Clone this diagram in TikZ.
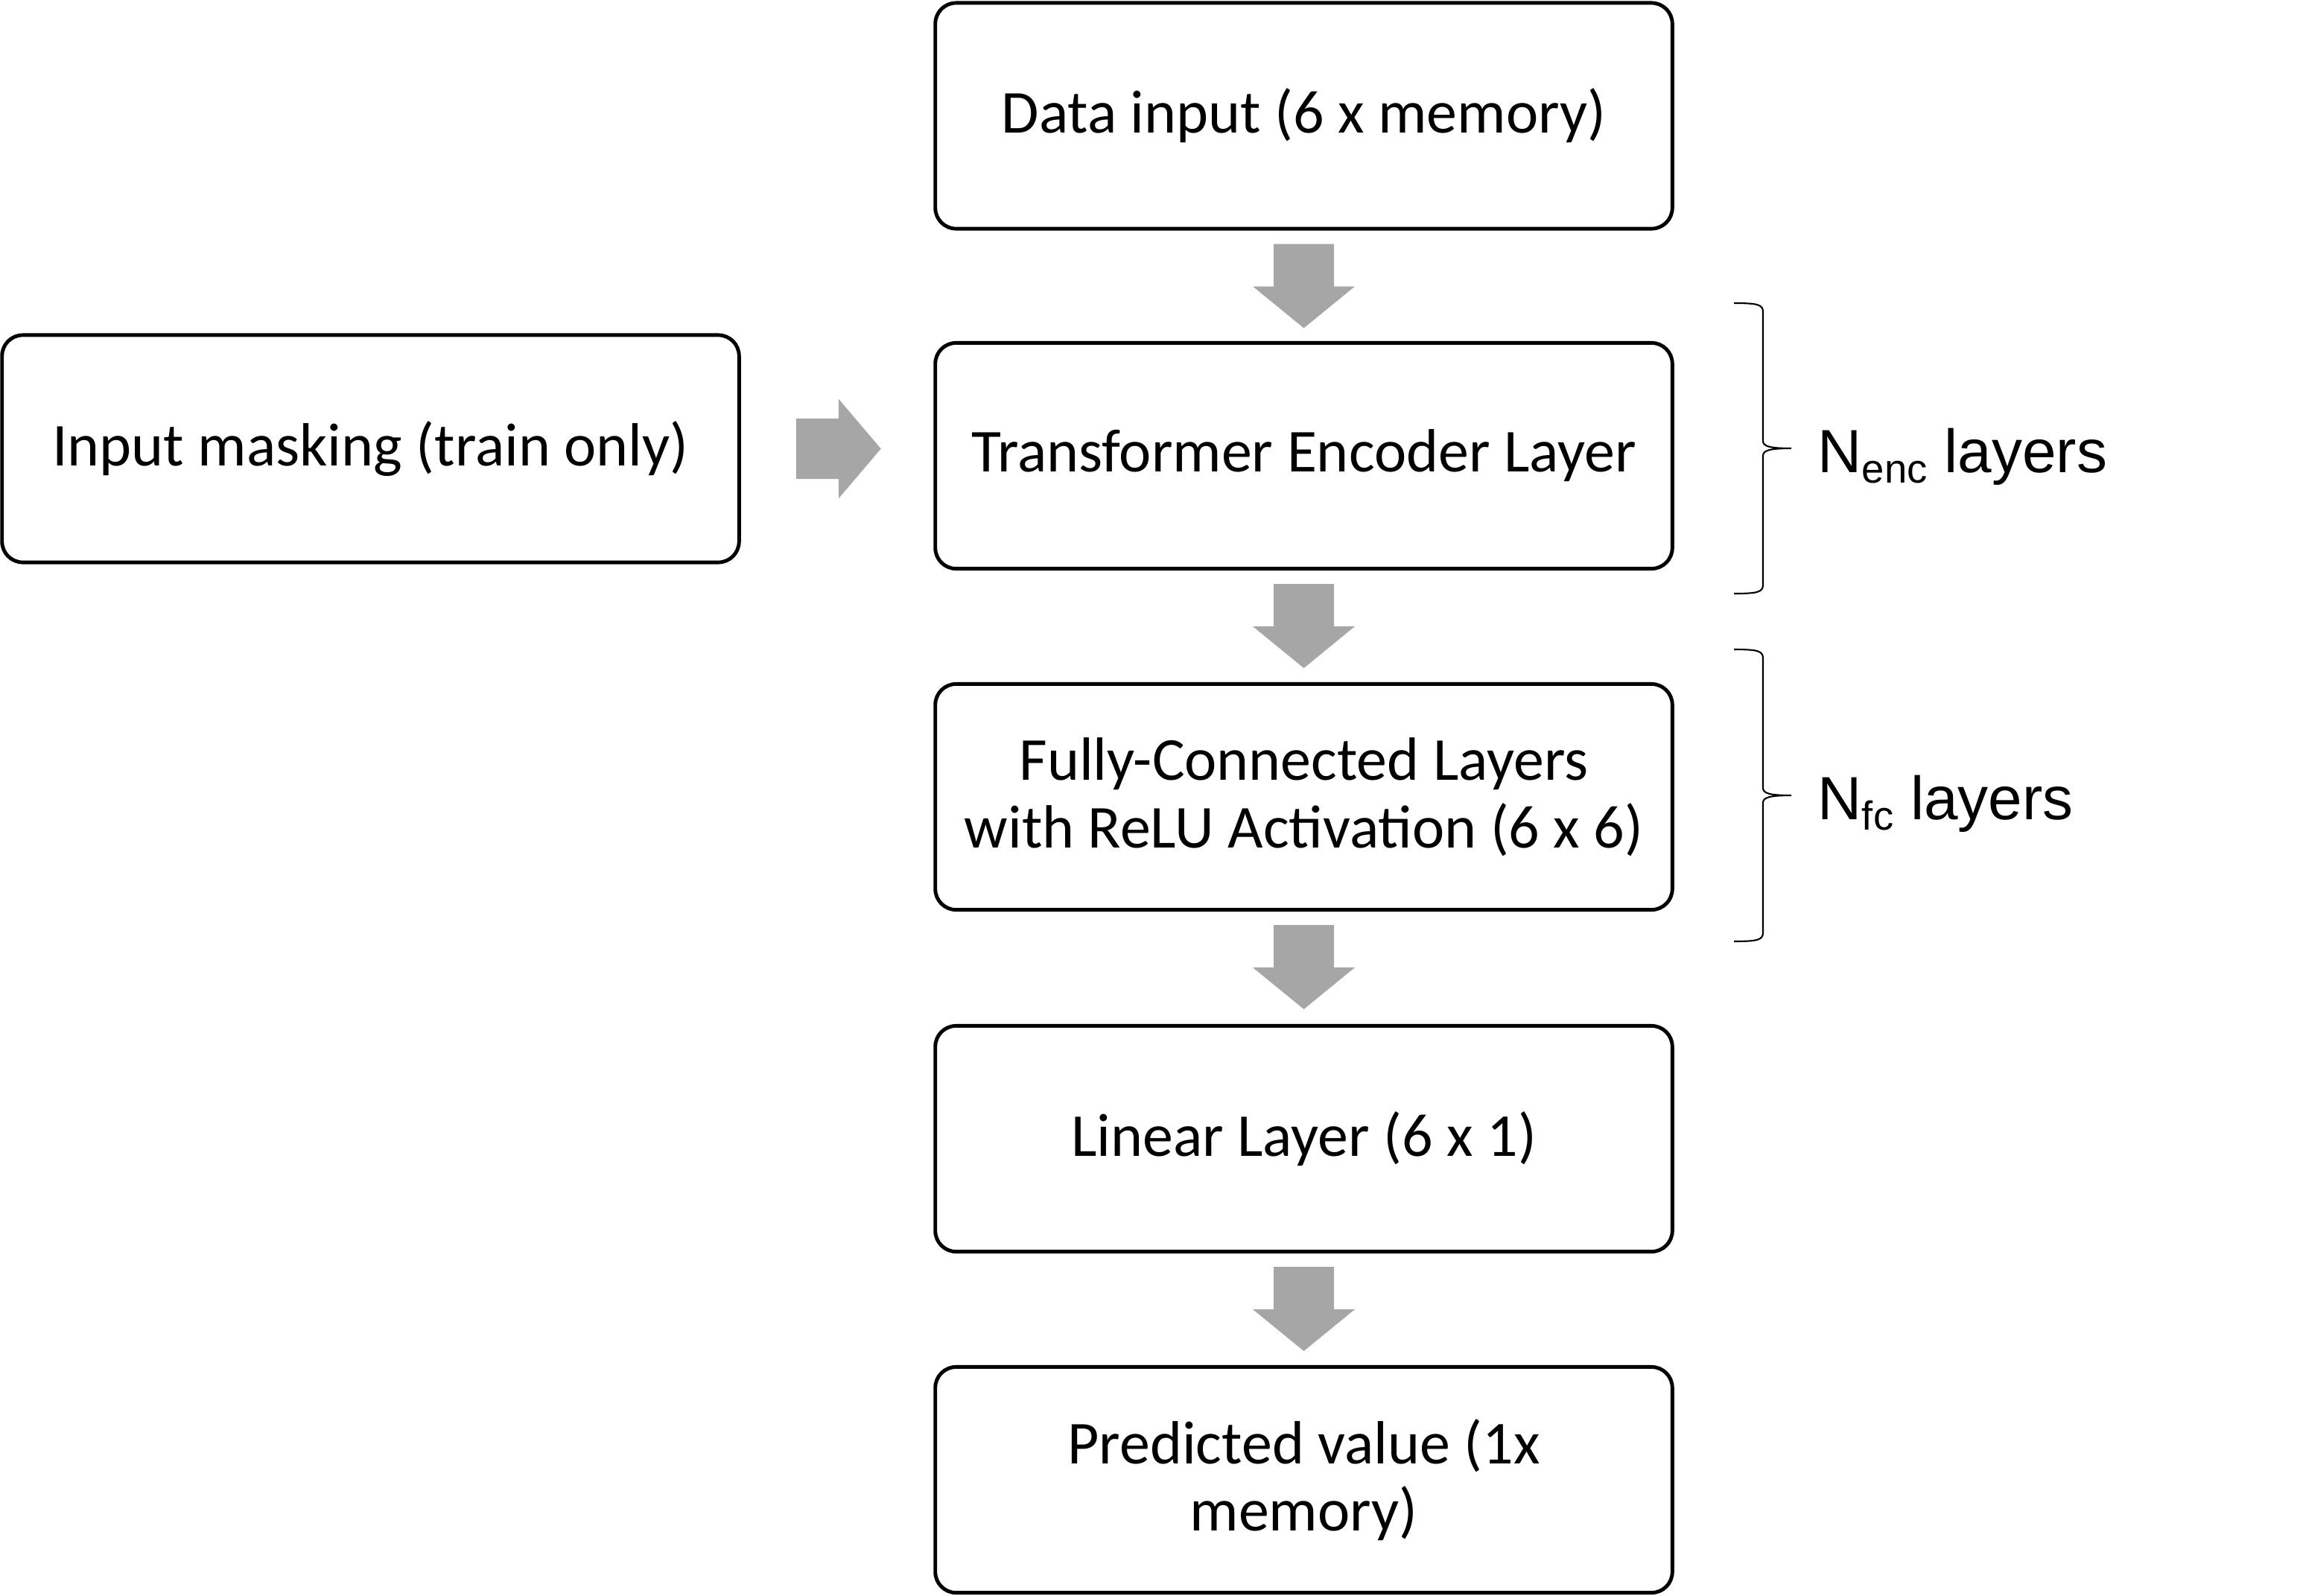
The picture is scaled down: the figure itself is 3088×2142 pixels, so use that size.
\documentclass[tikz,border=0pt]{standalone}
\usepackage{fontspec}
\setmainfont{Carlito}
\newfontfamily\arialfont{Liberation Sans}
\usetikzlibrary{calc}
\definecolor{arrgray}{HTML}{A6A6A6}
\newcommand\subtxt[1]{\raisebox{-0.18em}{\arialfont\fontsize{15.5}{16}\selectfont #1}}
\begin{document}
\begin{tikzpicture}[x=0.01cm,y=-0.01cm,
  box/.style={draw=black, line width=1.4pt, rounded corners=0.28cm,
    minimum width=9.89cm, minimum height=3.03cm, align=center,
    font=\fontsize{23.3}{25.8}\selectfont, inner sep=0pt},
  brace/.style={draw=black, line width=0.6pt},
  lbl/.style={anchor=base west, inner sep=0pt},
  downarr/.pic={\fill[arrgray] (-40.5,0) -- (40.5,0) -- (40.5,57) -- (68.5,57) -- (0,113) -- (-68.5,57) -- (-40.5,57) -- cycle;},
  rightarr/.pic={\fill[arrgray] (0,-40.5) -- (57,-40.5) -- (57,-67) -- (114,0) -- (57,67) -- (57,40.5) -- (0,40.5) -- cycle;}
]
\useasboundingbox (0,0) rectangle (3088,2142);

\node[box] (data) at (1750.5,155.5) {Data input (6 x memory)};
\node[box] (trans) at (1750.5,612) {Transformer Encoder Layer};
\node[box] (fc) at (1750.5,1070) {Fully-Connected Layers\\with ReLU Activation (6 x 6)};
\node[box] (lin) at (1750.5,1529) {Linear Layer (6 x 1)};
\node[box] (pred) at (1750.5,1987) {Predicted value (1x\\memory)};
\node[box, minimum width=9.89cm, minimum height=3.05cm] (mask) at (497.5,602.5) {Input masking (train only)};

\pic at ($(data.south)+(0,18)$) {downarr};
\pic at ($(trans.south)+(0,18)$) {downarr};
\pic at ($(fc.south)+(0,18)$) {downarr};
\pic at ($(lin.south)+(0,18)$) {downarr};
\pic at ($(mask.east)+(74,0)$) {rightarr};

% braces
\draw[brace] (2328,407) .. controls (2360,407) and (2367,409) .. (2367,419)
  -- (2367,592) .. controls (2367,599) and (2375,602) .. (2405,602)
  .. controls (2375,602) and (2367,605) .. (2367,612)
  -- (2367,785) .. controls (2367,795) and (2360,797) .. (2328,797);
\draw[brace] (2328,872) .. controls (2360,872) and (2367,874) .. (2367,884)
  -- (2367,1058) .. controls (2367,1065) and (2375,1068) .. (2405,1068)
  .. controls (2375,1068) and (2367,1071) .. (2367,1078)
  -- (2367,1252) .. controls (2367,1262) and (2360,1264) .. (2328,1264);

\node[lbl] (nenc) at (2440,634) {\arialfont\fontsize{23.3}{26}\selectfont N\subtxt{enc} layers};
\node[lbl] (nfc) at (2440,1100) {\arialfont\fontsize{23.3}{26}\selectfont N\subtxt{fc} layers};
\end{tikzpicture}
\end{document}
